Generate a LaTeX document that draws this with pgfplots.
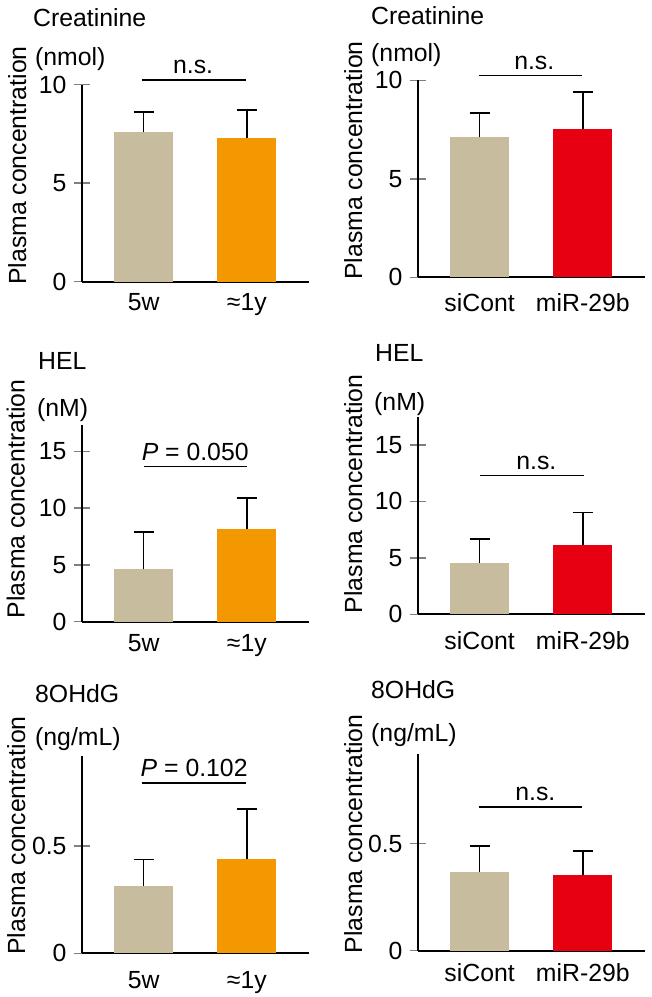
\documentclass[border=0pt]{standalone}
\usepackage{fontspec}
\setmainfont{Liberation Sans}
\usepackage{pgfplots}
\pgfplotsset{compat=1.18}
\definecolor{ctan}{RGB}{200,188,158}
\definecolor{corange}{RGB}{243,152,0}
\definecolor{cred}{RGB}{230,0,18}
\newcommand{\fs}{\fontsize{24.8}{29}\selectfont}
\pgfplotsset{
  panel/.style={
    anchor=south west, scale only axis, width=227pt, height=197pt,
    xmin=-0.6, xmax=1.6, ymin=0, clip=false,
    axis x line*=bottom, axis y line*=left,
    axis line style={line width=1.7pt},
    xtick={0,1}, xtick style={draw=none},
    tick align=center, major tick length=16pt,
    ytick style={line width=1.5pt},
    /pgf/number format/assume math mode=true,
    tick label style={font=\fs},
    yticklabel style={anchor=east, inner sep=0pt, xshift=-7pt},
    xticklabel style={anchor=north, inner sep=0pt, yshift=#1},
  },
  panel/.default={-6pt},
  bar/.style={ybar, bar width=59pt, bar shift=0pt, fill=#1, draw=none,
    error bars/.cd, y dir=plus, y explicit, error mark=|,
    error bar style={line width=1.7pt, black},
    error mark options={line width=1.7pt, mark size=10pt, black}},
}
\begin{document}
\begin{tikzpicture}[font=\fs]
\useasboundingbox (0pt,0pt) rectangle (652pt,-997pt);
% ---- Panel 1
\begin{axis}[panel={-4pt}, at={(81.7pt,-281.7pt)}, ymax=10, ytick={0,5,10}, xticklabels={5w,≈1y}]
\addplot[bar=ctan] coordinates {(0,7.58) +- (0,1.03)};
\addplot[bar=corange] coordinates {(1,7.29) +- (0,1.44)};
\draw[line width=1.4pt] (axis cs:-0.02,10.24) -- (axis cs:0.99,10.24);
\node[anchor=base, inner sep=0pt, yshift=6pt] at (axis cs:0.48,10.24) {n.s.};
\end{axis}
% ---- Panel 2
\begin{axis}[panel={-8pt}, at={(417.7pt,-277.3pt)}, ymax=10, ytick={0,5,10}, xticklabels={siCont,miR-29b}]
\addplot[bar=ctan] coordinates {(0,7.10) +- (0,1.24)};
\addplot[bar=cred] coordinates {(1,7.52) +- (0,1.87)};
\draw[line width=1.4pt] (axis cs:-0.01,10.23) -- (axis cs:0.99,10.23);
\node[anchor=base, inner sep=0pt, yshift=6pt] at (axis cs:0.53,10.23) {n.s.};
\end{axis}
% ---- Panel 3
\begin{axis}[panel={-5pt}, at={(81.7pt,-621.7pt)}, ymax=17.36, ytick={0,5,10,15}, xticklabels={5w,≈1y}]
\addplot[bar=ctan] coordinates {(0,4.62) +- (0,3.27)};
\addplot[bar=corange] coordinates {(1,8.15) +- (0,2.74)};
\draw[line width=1.4pt] (axis cs:0,13.68) -- (axis cs:1.0,13.68);
\node[anchor=base, inner sep=0pt, yshift=6pt] at (axis cs:0.5,13.68) {\textit{P} = 0.050};
\end{axis}
% ---- Panel 4
\begin{axis}[panel={-9pt}, at={(417.7pt,-614.3pt)}, ymax=17.44, ytick={0,5,10,15}, xticklabels={siCont,miR-29b}]
\addplot[bar=ctan] coordinates {(0,4.55) +- (0,2.10)};
\addplot[bar=cred] coordinates {(1,6.18) +- (0,2.82)};
\draw[line width=1.4pt] (axis cs:0,12.3) -- (axis cs:1.01,12.3);
\node[anchor=base, inner sep=0pt, yshift=6pt] at (axis cs:0.55,12.3) {n.s.};
\end{axis}
% ---- Panel 5
\begin{axis}[panel={-10pt}, at={(81.7pt,-953.3pt)}, ymax=0.919, ytick={0,0.5}, xticklabels={5w,≈1y}]
\addplot[bar=ctan] coordinates {(0,0.315) +- (0,0.123)};
\addplot[bar=corange] coordinates {(1,0.439) +- (0,0.233)};
\draw[line width=1.4pt] (axis cs:-0.02,0.795) -- (axis cs:0.99,0.795);
\node[anchor=base, inner sep=0pt, yshift=6pt] at (axis cs:0.49,0.795) {\textit{P} = 0.102};
\end{axis}
% ---- Panel 6
\begin{axis}[panel={-5pt}, at={(417.7pt,-950.7pt)}, ymax=0.919, ytick={0,0.5}, xticklabels={siCont,miR-29b}]
\addplot[bar=ctan] coordinates {(0,0.368) +- (0,0.121)};
\addplot[bar=cred] coordinates {(1,0.351) +- (0,0.113)};
\draw[line width=1.4pt] (axis cs:-0.01,0.671) -- (axis cs:0.99,0.671);
\node[anchor=base, inner sep=0pt, yshift=6pt] at (axis cs:0.54,0.671) {n.s.};
\end{axis}
% ---- titles and units
\begin{scope}[every node/.style={anchor=base west, inner sep=0pt}]
\node at (33pt,-26.7pt) {Creatinine};
\node at (35pt,-65pt) {(nmol)};
\node at (371pt,-24pt) {Creatinine};
\node at (371pt,-61.7pt) {(nmol)};
\node at (38pt,-369.3pt) {HEL};
\node at (37pt,-416.7pt) {(nM)};
\node at (375pt,-361.7pt) {HEL};
\node at (374pt,-410pt) {(nM)};
\node at (35pt,-702.7pt) {8OHdG};
\node at (35pt,-745.5pt) {(ng/mL)};
\node at (371pt,-698.3pt) {8OHdG};
\node at (371pt,-741.7pt) {(ng/mL)};
\end{scope}
% ---- y labels
\begin{scope}[every node/.style={anchor=base west, inner sep=0pt, rotate=90}]
\node at (26pt,-285pt) {Plasma concentration};
\node at (362pt,-280pt) {Plasma concentration};
\node at (24.5pt,-618.3pt) {Plasma concentration};
\node at (362pt,-613.3pt) {Plasma concentration};
\node at (25pt,-955pt) {Plasma concentration};
\node at (362pt,-953.3pt) {Plasma concentration};
\end{scope}
\end{tikzpicture}
\end{document}
